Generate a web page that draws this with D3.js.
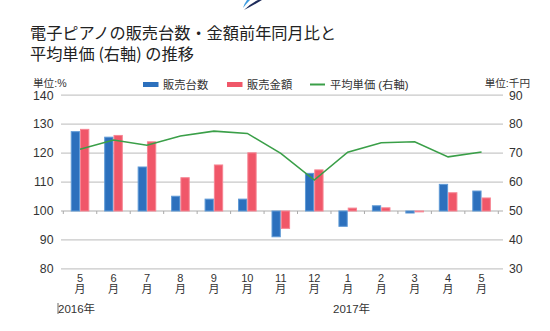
<!DOCTYPE html>
<html>
<head>
<meta charset="utf-8">
<script src="https://cdn.jsdelivr.net/npm/d3@7"></script>
<style>
  body { margin: 0; background: #fff; }
  svg { display: block; font-family: "Liberation Sans", "Noto Sans CJK JP", sans-serif; }
</style>
</head>
<body>
<div id="app"></div>
<script>
// months (2016/5 .. 2017/5)
const months = ["5", "6", "7", "8", "9", "10", "11", "12", "1", "2", "3", "4", "5"];
// 販売台数 前年同月比 (%)
const unitsYoY = [127.4, 125.5, 115.2, 105.1, 104.1, 104.1, 91.1, 113.0, 94.7, 101.8, 99.3, 109.2, 106.9];
// 販売金額 前年同月比 (%)
const amountYoY = [128.2, 126.1, 123.9, 111.5, 115.9, 120.1, 94.0, 114.2, 101.0, 101.1, 99.7, 106.3, 104.5];
// 平均単価 (千円, right axis)
const avgPrice = [71.3, 74.5, 72.7, 75.9, 77.6, 76.8, 69.9, 60.7, 70.3, 73.6, 73.9, 68.7, 70.4];
const leftTicks = [80, 90, 100, 110, 120, 130, 140];
const rightTicks = [30, 40, 50, 60, 70, 80, 90];

const W = 550, H = 331;
const plotLeft = 63.3, plotRight = 498.3, plotTop = 95.2, plotBottom = 268.9;

const svg = d3.select("#app").append("svg")
    .attr("width", W)
    .attr("height", H);

// small logo mark at the top
const logo = svg.append("g");
logo.append("path")
    .attr("d", "M262,0 L258,0 Q250,4 244,10 Q252,6 262,0 Z")
    .attr("fill", "#1d2b5a");
logo.append("path")
    .attr("d", "M250,0 L247,0 Q244,4 243,8 Q246,4 250,0 Z")
    .attr("fill", "#3d9be0");

// title
const title = svg.append("text")
    .attr("font-size", 16.2)
    .attr("fill", "#222")
    .style("font-family", "'Noto Sans CJK JP', sans-serif");
title.append("tspan").attr("x", 30).attr("y", 39).text("電子ピアノの販売台数・金額前年同月比と");
title.append("tspan").attr("x", 30).attr("y", 59.5).text("平均単価 (右軸) の推移");

// scales
const x = d3.scaleBand().domain(d3.range(months.length)).range([plotLeft, plotRight]).padding(0);
const xSub = d3.scaleBand().domain(["units", "amount"]).range([0, x.bandwidth()])
    .paddingInner(0).paddingOuter(0.8);
const y = d3.scaleLinear().domain([80, 140]).range([plotBottom, plotTop]);
const y2 = d3.scaleLinear().domain([30, 90]).range([plotBottom, plotTop]);

// grid lines
svg.append("g")
    .selectAll("line")
    .data(leftTicks)
    .join("line")
    .attr("x1", 61).attr("x2", 503)
    .attr("y1", d => y(d)).attr("y2", d => y(d))
    .attr("stroke", "#c8c8c8")
    .attr("stroke-width", 1.3);

// left axis labels
svg.append("g")
    .selectAll("text")
    .data(leftTicks)
    .join("text")
    .attr("x", 53.5)
    .attr("y", d => y(d) + 4.3)
    .attr("text-anchor", "end")
    .attr("font-size", 12.3)
    .attr("fill", "#333")
    .text(d => d);

// right axis labels
svg.append("g")
    .selectAll("text")
    .data(rightTicks)
    .join("text")
    .attr("x", 509)
    .attr("y", d => y2(d) + 4.3)
    .attr("font-size", 12.3)
    .attr("fill", "#333")
    .text(d => d);

// unit labels
svg.append("text").attr("x", 33).attr("y", 86.5).attr("font-size", 10.6).attr("fill", "#333").text("単位:%");
svg.append("text").attr("x", 530).attr("y", 86.5).attr("text-anchor", "end")
    .attr("font-size", 10.6).attr("fill", "#333").text("単位:千円");

// bars, drawn from the 100 baseline
const groups = svg.append("g")
    .selectAll("g")
    .data(months.map((m, i) => ({i, units: unitsYoY[i], amount: amountYoY[i]})))
    .join("g")
    .attr("transform", d => `translate(${x(d.i)},0)`);

const barColor = {units: "#2c70bd", amount: "#f05769"};
const barEdge = {units: "#5f9ad6", amount: "#f68593"};

groups.selectAll("rect")
    .data(d => ["units", "amount"].map(k => ({k, v: d[k]})))
    .join("rect")
    .attr("x", d => xSub(d.k) + 0.5)
    .attr("width", xSub.bandwidth() - 1)
    .attr("y", d => Math.min(y(d.v), y(100)))
    .attr("height", d => Math.abs(y(d.v) - y(100)))
    .attr("fill", d => barColor[d.k])
    .attr("stroke", d => barEdge[d.k])
    .attr("stroke-width", 1);

// tick marks on the 100 line
svg.append("g")
    .selectAll("line")
    .data(d3.range(months.length + 1))
    .join("line")
    .attr("x1", d => plotLeft + d * x.step()).attr("x2", d => plotLeft + d * x.step())
    .attr("y1", y(100)).attr("y2", y(100) + 3)
    .attr("stroke", "#aaa")
    .attr("stroke-width", 1);

// average price line
const line = d3.line()
    .x((d, i) => x(i) + x.bandwidth() / 2)
    .y(d => y2(d));

svg.append("path")
    .datum(avgPrice)
    .attr("d", line)
    .attr("fill", "none")
    .attr("stroke", "#3a9f48")
    .attr("stroke-width", 1.6);

// month labels
const mLabels = svg.append("g")
    .selectAll("g")
    .data(months)
    .join("g")
    .attr("transform", (d, i) => `translate(${x(i) + x.bandwidth() / 2},0)`)
    .attr("font-size", 11)
    .attr("fill", "#333")
    .attr("text-anchor", "middle");
mLabels.append("text").attr("y", 282).text(d => d);
mLabels.append("text").attr("y", 293).text("月");

// year labels
svg.append("line").attr("x1", 58).attr("x2", 58).attr("y1", 303).attr("y2", 314)
    .attr("stroke", "#444").attr("stroke-width", 0.8);
svg.append("text").attr("x", 58).attr("y", 313).attr("font-size", 11.5).attr("fill", "#333").text("2016年");
svg.append("text").attr("x", 333).attr("y", 313).attr("font-size", 11.5).attr("fill", "#333").text("2017年");

// legend
const legend = [
  {label: "販売台数", type: "rect", color: barColor.units, x: 143},
  {label: "販売金額", type: "rect", color: barColor.amount, x: 227},
  {label: "平均単価 (右軸)", type: "line", color: "#3a9f48", x: 310}
];
const lg = svg.append("g")
    .selectAll("g")
    .data(legend)
    .join("g")
    .attr("transform", d => `translate(${d.x},0)`);
lg.filter(d => d.type === "rect").append("rect")
    .attr("x", 0).attr("y", 82).attr("width", 15.5).attr("height", 5)
    .attr("fill", d => d.color);
lg.filter(d => d.type === "line").append("line")
    .attr("x1", 0).attr("x2", 15).attr("y1", 84.5).attr("y2", 84.5)
    .attr("stroke", d => d.color).attr("stroke-width", 2);
lg.append("text")
    .attr("x", 20).attr("y", 89)
    .attr("font-size", 11.3)
    .attr("fill", "#333")
    .text(d => d.label);
</script>
</body>
</html>
